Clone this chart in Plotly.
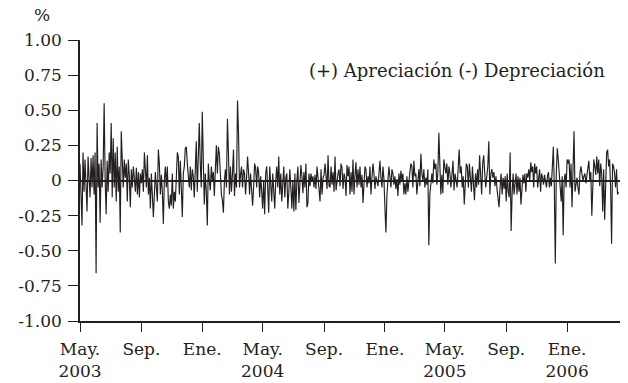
import plotly.graph_objects as go
import pandas as pd

# Period boundaries (tick months) and end of data
period_starts = ["2003-05-01", "2003-09-01", "2004-01-01", "2004-05-01", "2004-09-01",
                 "2005-01-01", "2005-05-01", "2005-09-01", "2006-01-01"]
data_end = "2006-04-16"

# Daily % change of exchange rate, by 4-month period
v_2003_may_ago = [0.12, -0.05, -0.32, 0.20, -0.08, 0.15, -0.10, -0.22, 0.17, 0.05,
                  -0.12, 0.16, -0.05, 0.18, -0.10, 0.20, -0.66, 0.41, -0.05, 0.12,
                  -0.30, 0.15, -0.05, 0.10, 0.55, 0.00, -0.24, 0.14, -0.08, 0.20,
                  0.05, 0.41, -0.12, 0.30, -0.05, 0.20, -0.15, 0.24, -0.08, 0.10,
                  -0.37, 0.35, 0.08, -0.05, 0.15, 0.02, 0.12, -0.15, 0.15, 0.03,
                  -0.19, 0.08, -0.05, 0.10, 0.02, -0.08, 0.09, -0.10, 0.06, -0.12, 0.05]
v_2003_sep_dic = [-0.02, 0.08, -0.08, 0.20, 0.05, -0.05, 0.18, -0.10, 0.02, -0.20,
                  0.05, -0.12, -0.26, -0.10, 0.06, -0.05, -0.15, 0.22, 0.12, -0.10,
                  0.04, -0.08, -0.31, 0.00, 0.10, -0.05, 0.10, -0.15, -0.20, -0.10,
                  -0.18, 0.05, -0.20, -0.08, -0.15, 0.02, 0.20, 0.17, -0.10, 0.14,
                  -0.05, -0.26, 0.05, 0.10, 0.23, 0.24, 0.12, 0.05, -0.05, 0.10,
                  -0.07, 0.08, 0.03, -0.12, 0.05, 0.28, -0.08, 0.15, 0.41, 0.12, -0.05]
v_2004_ene_abr = [0.49, 0.20, -0.17, 0.05, -0.08, -0.32, 0.12, 0.00, -0.07, 0.10,
                  0.00, 0.06, -0.11, 0.08, 0.25, 0.05, 0.24, 0.19, 0.02, -0.10,
                  -0.14, -0.23, 0.00, 0.08, -0.05, 0.44, 0.20, -0.10, 0.10, -0.08,
                  0.05, 0.22, -0.11, 0.05, -0.05, 0.57, 0.34, -0.05, 0.04, 0.10,
                  -0.05, 0.08, 0.05, -0.10, 0.02, 0.17, 0.06, -0.10, 0.05, -0.05,
                  -0.18, -0.05, 0.12, 0.09, -0.05, 0.10, 0.06, -0.12, 0.03, -0.07]
v_2004_may_ago = [-0.20, 0.00, -0.24, 0.05, 0.10, -0.05, -0.23, 0.10, -0.05, -0.15,
                  0.05, -0.08, -0.20, 0.00, 0.10, -0.05, 0.17, -0.10, 0.05, -0.15,
                  -0.05, 0.10, -0.12, 0.02, 0.05, -0.20, -0.08, 0.08, -0.05, -0.20,
                  0.00, -0.22, 0.05, -0.21, 0.00, 0.10, -0.16, 0.02, 0.11, 0.03,
                  -0.09, 0.06, -0.05, 0.12, -0.19, -0.16, 0.05, -0.04, 0.05, 0.00,
                  0.03, -0.05, 0.04, -0.06, 0.10, 0.02, -0.08, -0.15, 0.08, -0.10, 0.02]
v_2004_sep_dic = [0.04, 0.12, 0.00, -0.06, 0.18, -0.04, -0.05, 0.10, -0.03, 0.06,
                  -0.08, 0.17, -0.07, 0.00, 0.05, 0.08, -0.04, 0.12, 0.09, -0.06,
                  0.05, 0.02, -0.11, 0.11, 0.03, 0.10, -0.10, 0.06, -0.08, 0.15,
                  -0.10, 0.04, 0.13, -0.05, 0.08, -0.03, 0.10, -0.05, 0.04, -0.16,
                  -0.04, 0.10, 0.08, -0.05, 0.03, -0.02, 0.10, -0.10, 0.02, 0.12,
                  0.05, -0.06, 0.03, 0.00, -0.04, 0.05, 0.14, 0.02, -0.05, 0.10, 0.01]
v_2005_ene_abr = [-0.20, -0.37, -0.10, 0.04, 0.10, 0.02, -0.05, 0.08, 0.05, -0.03,
                  0.03, -0.06, 0.01, -0.11, 0.05, -0.03, 0.07, 0.00, 0.05, -0.10,
                  -0.02, -0.10, 0.03, -0.08, 0.02, 0.06, 0.12, 0.10, -0.05, 0.14,
                  0.03, 0.05, -0.10, 0.02, 0.08, -0.04, 0.19, 0.05, 0.00, 0.08,
                  -0.05, 0.02, -0.03, 0.08, -0.46, -0.10, 0.00, 0.05, -0.02, 0.15,
                  0.08, 0.12, -0.03, 0.05, 0.34, 0.05, -0.10, 0.04, -0.09, 0.15]
v_2005_may_ago = [0.10, 0.05, 0.12, -0.03, 0.10, 0.05, -0.05, 0.10, 0.14, -0.07,
                  0.05, 0.00, -0.05, 0.08, 0.22, 0.05, 0.10, -0.05, 0.03, -0.17,
                  0.05, 0.12, 0.10, -0.05, 0.12, -0.02, -0.08, 0.10, -0.03, -0.14,
                  0.05, -0.05, 0.08, -0.03, 0.18, 0.02, -0.10, 0.12, 0.18, 0.05,
                  -0.05, 0.03, 0.10, 0.28, -0.10, 0.05, 0.08, 0.02, 0.06, -0.04,
                  0.03, -0.06, -0.12, -0.19, -0.05, 0.05, -0.10, 0.02, -0.06, 0.03]
v_2005_sep_dic = [-0.15, 0.05, -0.08, -0.12, 0.20, -0.36, -0.10, 0.05, -0.10, 0.00,
                  0.05, -0.10, 0.03, -0.08, 0.02, -0.17, -0.05, 0.04, -0.02, 0.05,
                  -0.08, 0.05, 0.02, 0.08, 0.00, 0.13, 0.06, 0.10, -0.05, 0.12,
                  0.05, 0.10, -0.05, 0.05, 0.08, -0.08, 0.05, 0.02, -0.03, 0.04,
                  0.00, -0.05, 0.03, 0.06, -0.05, 0.02, -0.04, 0.10, 0.24, -0.05,
                  -0.59, 0.05, 0.23, 0.15, 0.02, -0.10, -0.15, 0.03, -0.39, 0.00,
                  0.05, -0.05]
v_2006_ene_abr = [0.15, 0.12, 0.15, -0.05, 0.12, -0.19, 0.10, 0.35, -0.08, 0.00,
                  0.02, -0.05, -0.10, 0.05, 0.10, 0.05, 0.00, 0.03, 0.05, -0.02,
                  0.03, 0.08, 0.14, 0.00, 0.06, -0.25, 0.05, 0.15, 0.10, 0.04,
                  0.17, 0.05, 0.15, -0.04, 0.12, 0.05, -0.22, 0.08, -0.28, 0.05,
                  0.20, 0.22, 0.10, 0.15, -0.05, -0.45, 0.12, 0.10, 0.05, -0.05,
                  0.08, -0.10, -0.08]

periods = [v_2003_may_ago, v_2003_sep_dic, v_2004_ene_abr, v_2004_may_ago, v_2004_sep_dic,
           v_2005_ene_abr, v_2005_may_ago, v_2005_sep_dic, v_2006_ene_abr]

# Axis ticks
x_tick_dates = ["2003-05-01", "2003-09-01", "2004-01-01", "2004-05-01", "2004-09-01",
                "2005-01-01", "2005-05-01", "2005-09-01", "2006-01-01"]
x_tick_labels = ["May.<br>2003", "Sep.", "Ene.", "May.<br>2004", "Sep.", "Ene.",
                 "May.<br>2005", "Sep.", "Ene.<br>2006"]
y_tick_vals = [-1.0, -0.75, -0.5, -0.25, 0.0, 0.25, 0.5, 0.75, 1.0]
y_tick_labels = ["-1.00", "-0.75", "-0.50", "-0.25", "0", "0.25", "0.50", "0.75", "1.00"]

bounds = period_starts + [data_end]
xs, ys = [], []
for i, vals in enumerate(periods):
    d = pd.date_range(bounds[i], bounds[i + 1], periods=len(vals) + 1)[:-1]
    xs.extend(d)
    ys.extend(vals)

ink = "#231f20"
font_family = "DejaVu Serif"

fig = go.Figure()
fig.add_trace(go.Scatter(x=xs, y=ys, mode="lines",
                         line=dict(color=ink, width=1.15), hoverinfo="skip",
                         showlegend=False))

fig.update_layout(
    width=628, height=383,
    margin=dict(l=80, r=8, t=40, b=62),
    paper_bgcolor="white", plot_bgcolor="white",
    font=dict(family=font_family, size=17, color=ink),
    xaxis=dict(
        range=["2003-05-01", "2006-04-17"],
        tickmode="array", tickvals=x_tick_dates, ticktext=x_tick_labels,
        showgrid=False, zeroline=False, automargin=False,
        showline=True, linecolor=ink, linewidth=1.5,
        ticks="outside", ticklen=9, tickwidth=1.2, tickcolor=ink,
        tickfont=dict(family=font_family, size=17, color=ink),
        ticklabelstandoff=3,
    ),
    yaxis=dict(
        range=[-1.0, 1.0],
        tickmode="array", tickvals=y_tick_vals, ticktext=y_tick_labels,
        showgrid=False, automargin=False,
        zeroline=True, zerolinecolor=ink, zerolinewidth=1.5,
        showline=True, linecolor=ink, linewidth=1.5,
        ticks="outside", ticklen=10, tickwidth=1.2, tickcolor=ink,
        tickfont=dict(family=font_family, size=17, color=ink),
        ticklabelstandoff=3,
    ),
    annotations=[
        dict(text="%", xref="paper", yref="paper", x=-0.07, y=1.089,
             xanchor="center", yanchor="middle", showarrow=False,
             font=dict(family=font_family, size=17, color=ink)),
        dict(text="(+) Apreciación (-) Depreciación", xref="paper", yref="paper",
             x=0.976, y=0.890, xanchor="right", yanchor="middle", showarrow=False,
             font=dict(family=font_family, size=18, color=ink)),
    ],
)

# Remove the default page margin so the figure sits at the window's top-left corner
fig.write_html("out.html", config={"displayModeBar": False},
               post_script="document.body.style.margin='0';")
